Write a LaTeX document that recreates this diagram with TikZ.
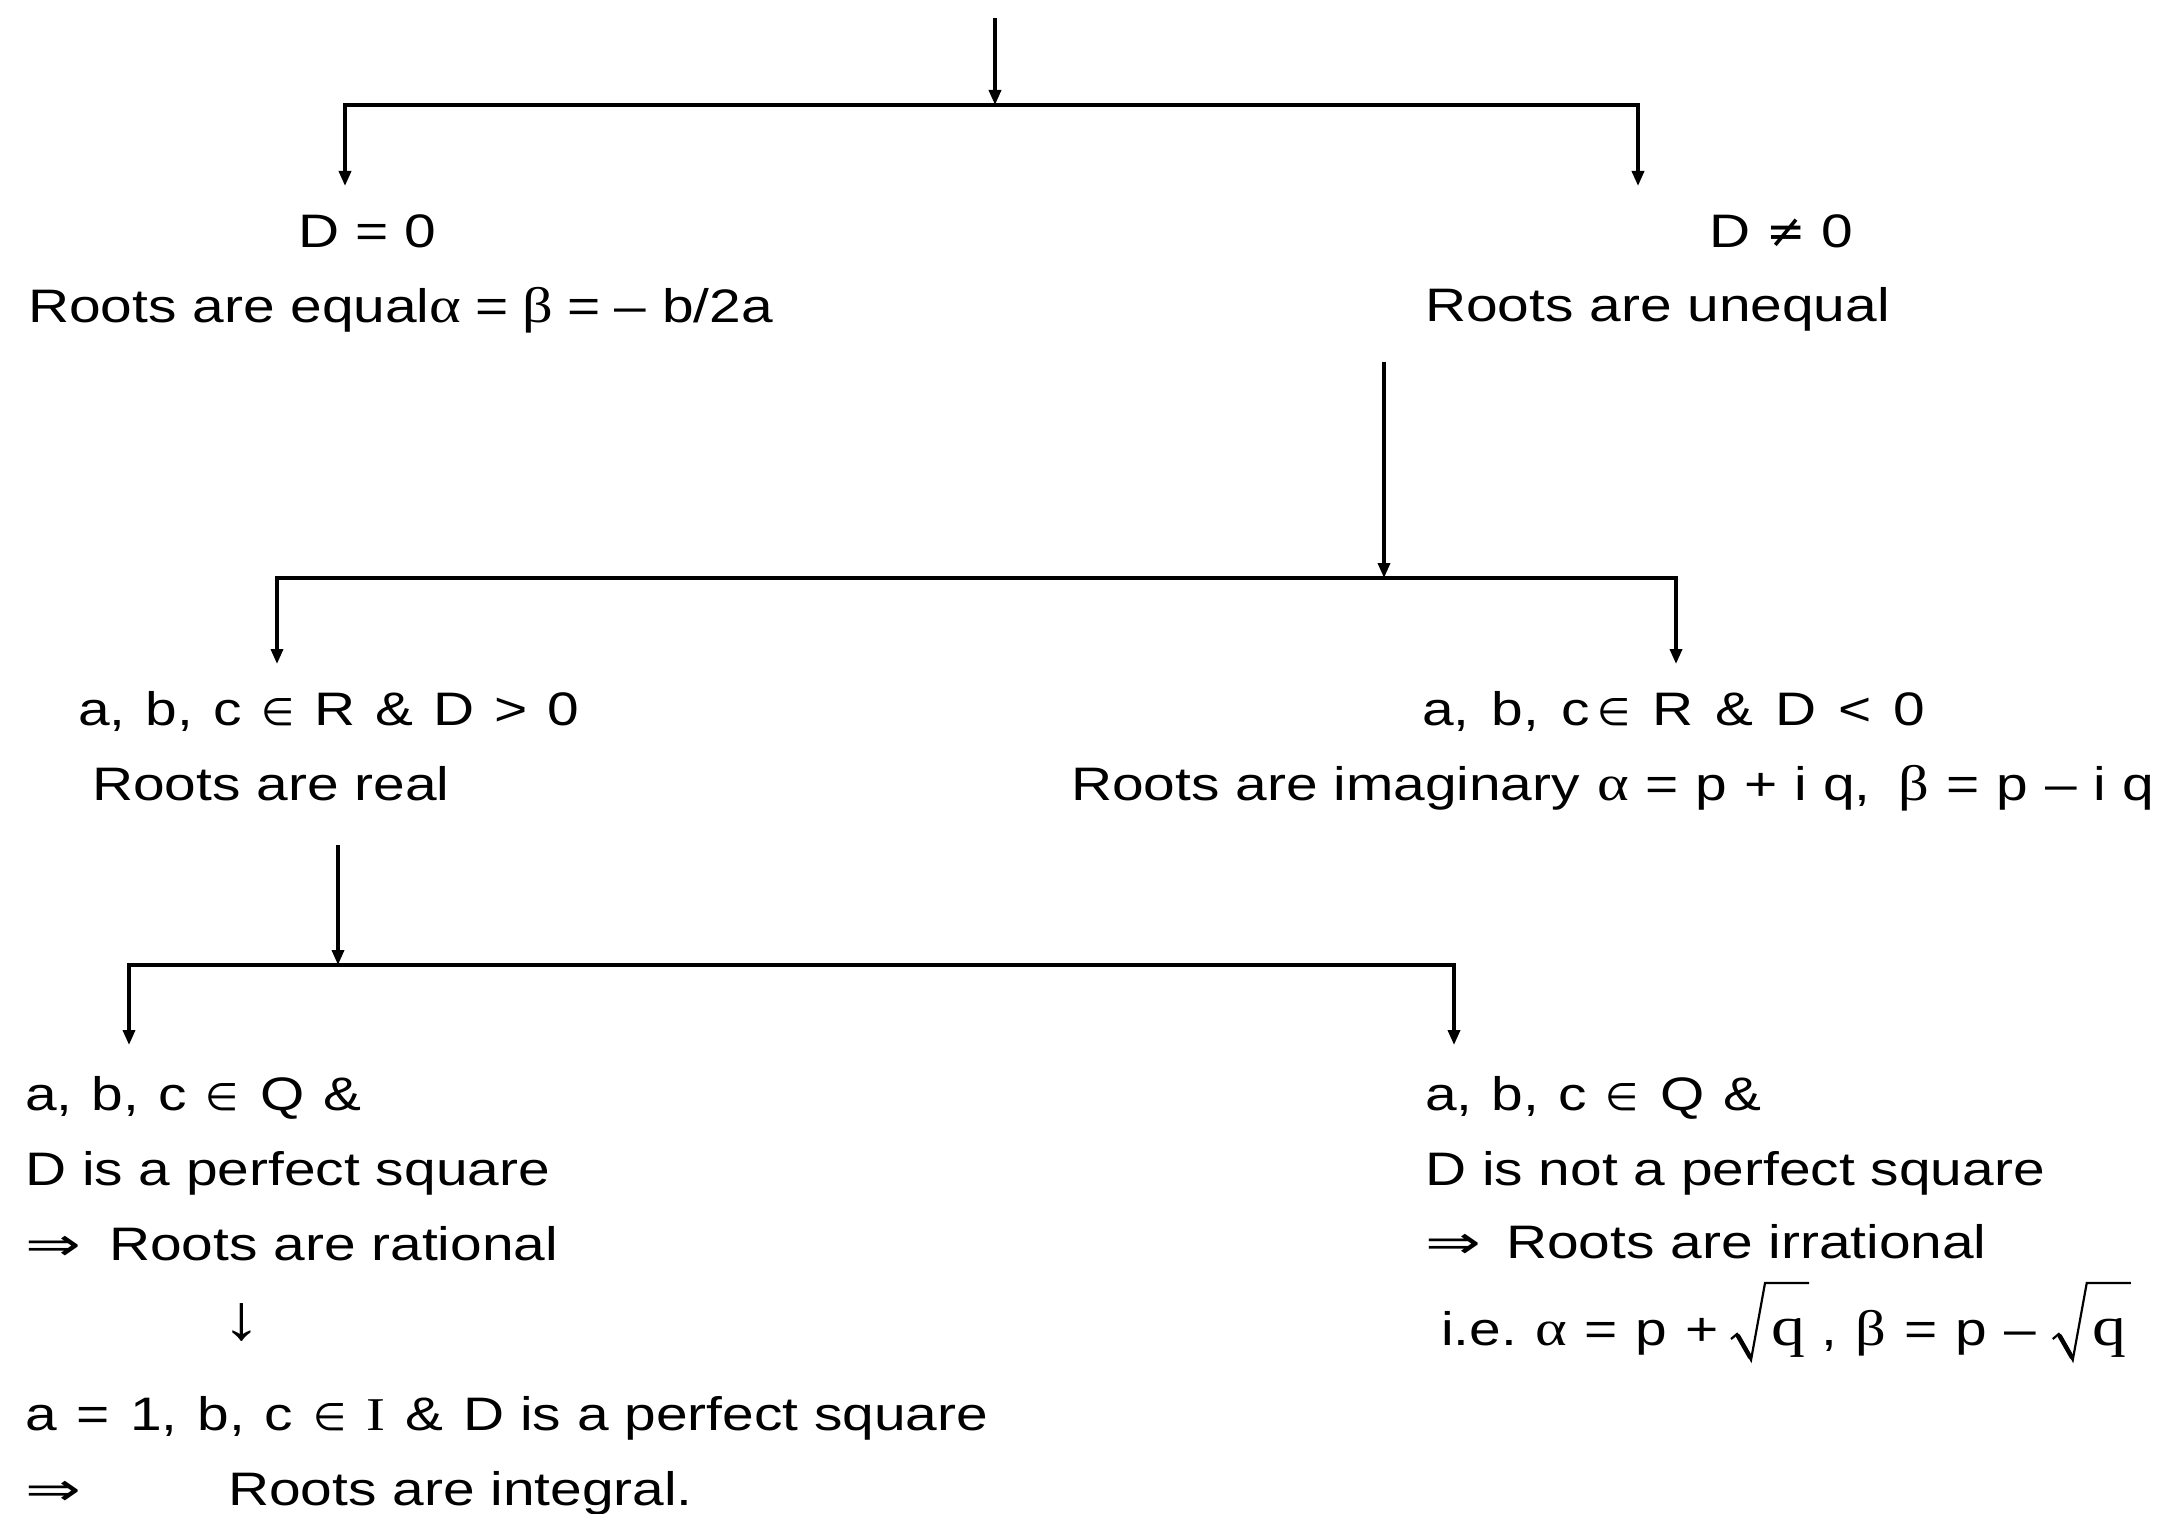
\RequirePackage{fix-cm}
\documentclass[tikz,border=0pt]{standalone}
\usepackage{fontspec}
\setmainfont{Liberation Sans}[FakeStretch=1.21]
\newfontfamily\serf{Liberation Serif}[FakeStretch=1.21]
\newfontfamily\djv{DejaVu Sans}
\newfontfamily\djvw{DejaVu Sans}[FakeStretch=1.45]
\usetikzlibrary{arrows.meta,calc}
\newcommand\hs[1]{\hspace{#1pt}}
\newcommand\myal{{\serf\fontsize{50}{75}\selectfont α}}
\newcommand\mybe{{\serf\fontsize{50}{75}\selectfont β}}
\newcommand\myin{{\djv\fontsize{38}{75}\selectfont ∈}}
\newcommand\myne{{\djv ≠}}
\newcommand\myRa{{\djvw\fontsize{46}{75}\selectfont ⇒}}
\newcommand\myq{{\serf\fontsize{56}{75}\selectfont q}}
\begin{document}
\begin{tikzpicture}[x=1pt,y=-1pt,
  txt/.style={anchor=base west, inner sep=0pt, font=\fontsize{47}{75}\selectfont},
  arr/.style={line width=3.5pt, -{Triangle[length=15pt,width=12pt]}},
  radthin/.style={line width=2.2pt, line join=miter},
  radthick/.style={line width=4.5pt, line cap=round}]
\useasboundingbox (0,0) rectangle (2172,1514);
% level 1
\coordinate (top) at (995,18);
\coordinate (j1) at (995,105);
\coordinate (j1L) at (345,105);
\coordinate (j1R) at (1638,105);
\coordinate (t1L) at (345,186);
\coordinate (t1R) at (1638,186);
\node[txt] (d0) at (298,248) {D = 0};
\node[txt] (eq) at (28,323) {Roots are equal\myal\hs{14}=\hs{14}\mybe\hs{14}=\hs{14}– b/2a};
\node[txt] (dn0) at (1709,248) {D \myne{} 0};
\node[txt] (uneq) at (1425,322) {Roots are unequal};
\draw[arr] (top) -- (j1);
\draw[arr] (j1) -- (j1L) -- (t1L);
\draw[arr] (j1) -- (j1R) -- (t1R);
% level 2
\coordinate (s2) at (1384,362);
\coordinate (j2) at (1384,578);
\coordinate (j2L) at (277,578);
\coordinate (j2R) at (1676,578);
\coordinate (t2L) at (277,664);
\coordinate (t2R) at (1676,664);
\node[txt] (rp) at (78,725) {a,\hs{20}b,\hs{20}c\hs{20}\myin\hs{20}R\hs{20}\&\hs{20}D\hs{20}>\hs{20}0};
\node[txt] (real) at (92,800) {Roots are real};
\node[txt] (rn) at (1422,725) {a,\hs{22}b,\hs{22}c\hs{8}\myin\hs{22}R\hs{22}\&\hs{22}D\hs{22}<\hs{22}0};
\node[txt] (imag) at (1071,800) {Roots are imaginary\hs{17}\myal\hs{17}=\hs{17}p\hs{17}+\hs{17}i q,\hs{28}\mybe\hs{17}=\hs{17}p\hs{17}–\hs{17}i q};
\draw[arr] (s2) -- (j2);
\draw[arr] (j2) -- (j2L) -- (t2L);
\draw[arr] (j2) -- (j2R) -- (t2R);
% level 3
\coordinate (s3) at (338,845);
\coordinate (j3) at (338,965);
\coordinate (j3L) at (129,965);
\coordinate (j3R) at (1454,965);
\coordinate (t3L) at (129,1045);
\coordinate (t3R) at (1454,1045);
\draw[arr] (s3) -- (j3);
\draw[arr] (j3) -- (j3L) -- (t3L);
\draw[arr] (j3) -- (j3R) -- (t3R);
% left block
\node[txt] (l1) at (25,1110) {a,\hs{19}b,\hs{19}c\hs{19}\myin\hs{22}Q\hs{19}\&};
\node[txt] (l2) at (25,1185) {D is a perfect square};
\node[txt] (l3) at (25,1260) {\makebox[84pt][l]{\myRa}Roots are rational};
\node[txt,anchor=center] (ldown) at (242,1322) {{\serf\fontsize{64}{75}\selectfont ↓}};
\node[txt] (l4) at (25,1430) {a\hs{20}=\hs{20}1,\hs{20}b,\hs{20}c\hs{20}\myin\hs{20}{\serf I}\hs{20}\&\hs{20}D is a perfect square};
\node[txt] (l5) at (25,1505) {\makebox[203pt][l]{\myRa}Roots are integral.};
% right block
\node[txt] (r1) at (1425,1110) {a,\hs{19}b,\hs{19}c\hs{19}\myin\hs{22}Q\hs{19}\&};
\node[txt] (r2) at (1425,1185) {D is not a perfect square};
\node[txt] (r3) at (1425,1258) {\makebox[81pt][l]{\myRa}Roots are irrational};
\node[txt] (r4a) at (1441,1345) {i.e.\hs{18}\myal\hs{18}=\hs{18}p\hs{18}+};
\node[txt] (r4q1) at ([xshift=52pt]r4a.base east) {\myq};
\node[txt] (r4b) at ([xshift=16pt]r4q1.base east) {,\hs{18}\mybe\hs{18}=\hs{18}p\hs{18}–};
\node[txt] (r4q2) at ([xshift=56pt]r4b.base east) {\myq};
\foreach \q in {r4q1,r4q2}{
  \draw[radthin] ($(\q.base west)+(-40,-6)$) -- ($(\q.base west)+(-34,-11)$)
     -- ($(\q.base west)+(-20,15)$) -- ($(\q.base west)+(-6,-62)$) -- ($(\q.base west)+(38,-62)$);
  \draw[radthick] ($(\q.base west)+(-33,-9)$) -- ($(\q.base west)+(-21,12)$);
}
\end{tikzpicture}
\end{document}
